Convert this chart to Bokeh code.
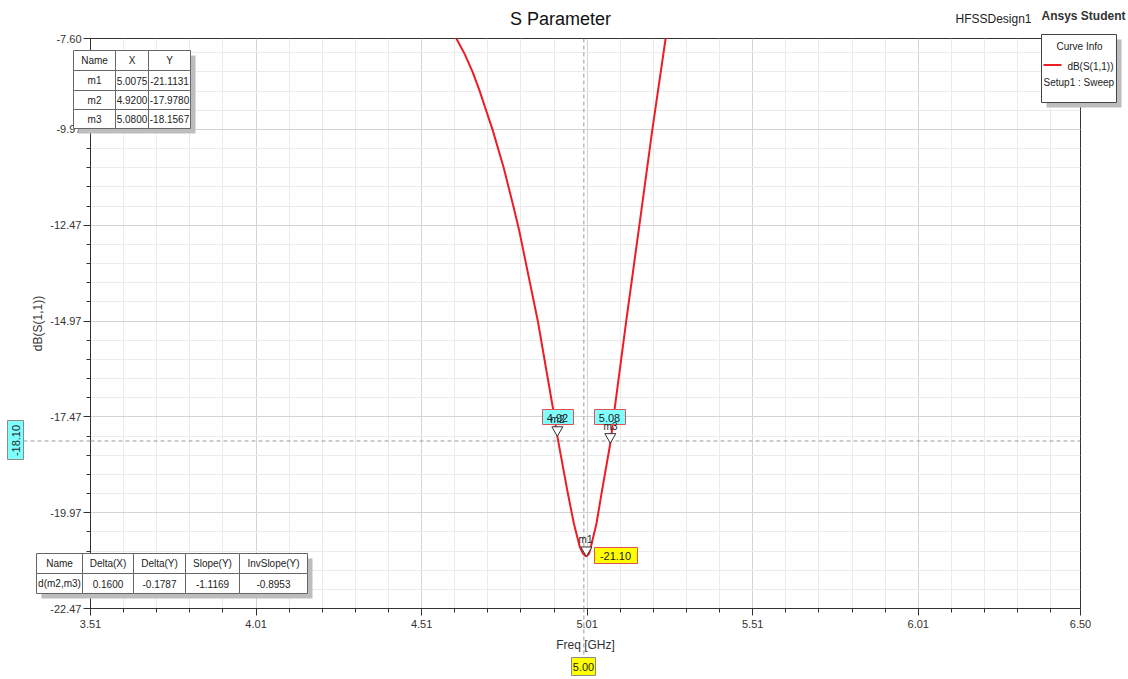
import math
from bokeh.plotting import figure
from bokeh.models import Range1d, FixedTicker, Label, PrintfTickFormatter
from bokeh.embed import file_html
from bokeh.resources import INLINE

# ---------------- data ----------------
freq_ghz = [4.580, 4.615, 4.641, 4.664, 4.685, 4.7045, 4.724, 4.758, 4.787,
            4.804, 4.861, 4.907, 4.920, 4.950, 4.970, 4.988, 4.9975, 5.0075,
            5.0156, 5.021, 5.038, 5.055, 5.080, 5.093, 5.128, 5.166, 5.207,
            5.247, 5.260]
s11_db = [-6.90, -7.60, -8.02, -8.47, -8.96, -9.47, -9.97, -10.97, -11.97,
          -12.58, -14.97, -17.26, -17.98, -19.39, -20.26, -20.87, -21.04, -21.11,
          -21.04, -20.87, -20.26, -19.39, -18.16, -17.26, -14.97, -12.58, -9.97,
          -7.60, -6.90]

marker_names = ["m1", "m2", "m3"]
marker_x = [5.0075, 4.9200, 5.0800]
marker_y = [-21.1131, -17.9780, -18.1567]
marker_x_text = ["5.0075", "4.9200", "5.0800"]
marker_y_text = ["-21.1131", "-17.9780", "-18.1567"]

delta_headers = ["Name", "Delta(X)", "Delta(Y)", "Slope(Y)", "InvSlope(Y)"]
delta_values = ["d(m2,m3)", "0.1600", "-0.1787", "-1.1169", "-0.8953"]

x_major_ticks = [3.51, 4.01, 4.51, 5.01, 5.51, 6.01, 6.50]
x_tick_labels = ["3.51", "4.01", "4.51", "5.01", "5.51", "6.01", "6.50"]
y_major_ticks = [-22.47, -19.97, -17.47, -14.97, -12.47, -9.97, -7.60]
y_tick_labels = ["-22.47", "-19.97", "-17.47", "-14.97", "-12.47", "-9.97", "-7.60"]

cursor_x = 5.00
cursor_x_text = "5.00"
cursor_y = -18.10
cursor_y_text = "-18.10"
m1_value_text = "-21.10"
m2_value_text = "4.92"
m3_value_text = "5.08"

X_LO, X_HI = x_major_ticks[0], x_major_ticks[-1]
Y_LO, Y_HI = y_major_ticks[0], y_major_ticks[-1]

# minor ticks (0.1 GHz and 0.5 dB subdivisions)
x_minor = []
for a, b in zip(x_major_ticks[:-1], x_major_ticks[1:]):
    k = 1
    while a + 0.1 * k < b - 0.05:
        x_minor.append(round(a + 0.1 * k, 3))
        k += 1
y_minor = []
k = 1
while Y_LO + 0.5 * k < Y_HI - 0.05:
    y_minor.append(round(Y_LO + 0.5 * k, 3))
    k += 1

# ---------------- layout helpers ----------------
W, H = 1128, 679
FL, FR, FT, FB = 90, 1080, 38, 608  # frame edges in px
FONT = "Liberation Sans"


def px2x(px):
    return X_LO + (px - FL) * (X_HI - X_LO) / (FR - FL)


def py2y(py):
    return Y_HI - (py - FT) * (Y_HI - Y_LO) / (FB - FT)


# ================= main chart (frame + axes + curve) =================
pm = figure(width=W, height=H, title=None,
            x_range=Range1d(X_LO, X_HI), y_range=Range1d(Y_LO, Y_HI),
            output_backend="svg", toolbar_location=None,
            min_border_left=FL, min_border_right=W - FR,
            min_border_top=FT, min_border_bottom=H - FB)
pm.background_fill_color = "white"
pm.border_fill_color = "white"
pm.outline_line_color = "#333333"
pm.outline_line_width = 1

pm.xaxis.ticker = FixedTicker(ticks=x_major_ticks, minor_ticks=x_minor)
pm.yaxis.ticker = FixedTicker(ticks=y_major_ticks, minor_ticks=y_minor)
pm.xaxis.formatter = PrintfTickFormatter(format="%.2f")
pm.yaxis.formatter = PrintfTickFormatter(format="%.2f")
pm.xaxis.major_label_overrides = {t: s for t, s in zip(x_major_ticks, x_tick_labels)}
pm.yaxis.major_label_overrides = {t: s for t, s in zip(y_major_ticks, y_tick_labels)}

for ax in (pm.xaxis, pm.yaxis):
    ax.axis_line_color = "#333333"
    ax.major_tick_line_color = "#333333"
    ax.minor_tick_line_color = "#333333"
    ax.major_tick_in = 0
    ax.minor_tick_in = 0
    ax.major_tick_out = 7
    ax.minor_tick_out = 4
    ax.major_label_text_font = FONT
    ax.major_label_text_font_size = "11px"
    ax.major_label_text_color = "#333333"
    ax.axis_label_text_font = FONT
    ax.axis_label_text_font_size = "12px"
    ax.axis_label_text_font_style = "normal"
    ax.axis_label_text_color = "#333333"

pm.xaxis.axis_label = "Freq [GHz]"
pm.yaxis.axis_label = "dB(S(1,1))"
pm.xaxis.major_label_standoff = 4
pm.xaxis.axis_label_standoff = 7
pm.yaxis.major_label_standoff = 2
pm.yaxis.axis_label_standoff = 2

pm.xgrid.grid_line_color = "#d4d4d4"
pm.ygrid.grid_line_color = "#d4d4d4"
pm.xgrid.minor_grid_line_color = "#ebebeb"
pm.ygrid.minor_grid_line_color = "#ebebeb"

# cursors (inside the frame)
pm.segment(x0=[cursor_x], y0=[Y_HI], x1=[cursor_x], y1=[Y_LO],
           line_color="#9a9a9a", line_width=1, line_dash="4 3")
pm.segment(x0=[X_LO], y0=[cursor_y], x1=[X_HI], y1=[cursor_y],
           line_color="#9a9a9a", line_width=1, line_dash="4 3")

pm.line(freq_ghz, s11_db, line_color="#ee1c25", line_width=2)

# ================= overlay covering the whole canvas =================
po = figure(width=W, height=H, title=None,
            x_range=Range1d(px2x(0), px2x(W)), y_range=Range1d(py2y(H), py2y(0)),
            output_backend="svg", toolbar_location=None,
            x_axis_location=None, y_axis_location=None,
            min_border=0, min_border_left=0, min_border_right=0,
            min_border_top=0, min_border_bottom=0)
po.background_fill_color = None
po.border_fill_color = None
po.outline_line_color = None
po.grid.visible = False
po.margin = (-H, 0, 0, 0)


def box(l, t, r, b, fill="white", line="#555555", lw=1):
    po.quad(left=[px2x(l)], right=[px2x(r)], top=[py2y(t)], bottom=[py2y(b)],
            fill_color=fill, line_color=line, line_width=lw)


def text(cx, cy, s, size="10px", align="center", color="#222222", style="normal",
         angle=0.0):
    po.add_layout(Label(x=px2x(cx), y=py2y(cy), text=s, text_align=align,
                        text_baseline="middle", text_font=FONT, text_font_size=size,
                        text_color=color, text_font_style=style, angle=angle))


# cursor extensions outside the frame
po.segment(x0=[cursor_x], y0=[Y_LO], x1=[cursor_x], y1=[py2y(657)],
           line_color="#9a9a9a", line_width=1, line_dash="4 3")
po.segment(x0=[px2x(23)], y0=[cursor_y], x1=[X_LO], y1=[cursor_y],
           line_color="#9a9a9a", line_width=1, line_dash="4 3")

# marker triangles (tip at the marker point)
tri_size = 11
tip_px = tri_size / 2 * math.sqrt(3) * 2 / 3
dy_per_px = (Y_HI - Y_LO) / (FB - FT)
po.scatter(marker_x, [v + tip_px * dy_per_px for v in marker_y],
           marker="inverted_triangle", size=tri_size,
           fill_color="white", line_color="#333333", line_width=1)

# cursor value boxes
box(571, 657, 595, 675, fill="#ffff00", line="#8a8a8a")
text(583, 666, cursor_x_text, size="11px")
box(7, 420, 23, 459, fill="#80ffff", line="#8a8a8a")
text(15, 440, cursor_y_text, size="11px", angle=math.pi / 2)

# marker callouts
box(542, 409, 573, 424, fill="#80ffff", line="#e05050")
text(557, 417, m2_value_text, size="11px")
box(594, 409, 625, 424, fill="#80ffff", line="#e05050")
text(609, 417, m3_value_text, size="11px")
box(594, 547, 637, 563, fill="#ffff00", line="#e05050")
text(615, 555, m1_value_text, size="11px")
marker_label_pos = [(585, 539), (557, 419), (610, 426)]
for name, (lx, ly) in zip(marker_names, marker_label_pos):
    text(lx, ly, name, size="10px")

# marker table (top-left)
col_x = [73, 115, 148, 190]
row_y = [50, 70, 90, 109, 128]
box(col_x[0] + 5, row_y[0] + 5, col_x[-1] + 5, row_y[-1] + 5, fill="#bdbdbd", line=None)
rows = [["Name", "X", "Y"]] + [[n, xs, ys] for n, xs, ys in
                               zip(marker_names, marker_x_text, marker_y_text)]
for r, row in enumerate(rows):
    for c, s in enumerate(row):
        box(col_x[c], row_y[r], col_x[c + 1], row_y[r + 1], line="#666666")
        text((col_x[c] + col_x[c + 1]) / 2, (row_y[r] + row_y[r + 1]) / 2, s)

# delta table (bottom-left)
dcol_x = [36, 82, 133, 185, 239, 307]
drow_y = [553, 573, 593]
box(dcol_x[0] + 5, drow_y[0] + 5, dcol_x[-1] + 5, drow_y[-1] + 5, fill="#bdbdbd", line=None)
for r, row in enumerate([delta_headers, delta_values]):
    for c, s in enumerate(row):
        box(dcol_x[c], drow_y[r], dcol_x[c + 1], drow_y[r + 1], line="#666666")
        text((dcol_x[c] + dcol_x[c + 1]) / 2, (drow_y[r] + drow_y[r + 1]) / 2, s)

# curve info box
box(1046, 39, 1121, 107, fill="#bdbdbd", line=None)
box(1041, 34, 1116, 102, line="#444444")
text(1079, 46, "Curve Info")
po.segment(x0=[px2x(1043)], y0=[py2y(64.5)], x1=[px2x(1061)], y1=[py2y(64.5)],
           line_color="#ee1c25", line_width=2)
text(1113, 66, "dB(S(1,1))", align="right")
text(1043, 82, "Setup1 : Sweep", align="left")

# titles
text(560, 18, "S Parameter", size="18px", color="#111111")
text(993, 18, "HFSSDesign1", size="12px", color="#222222")
text(1083, 15, "Ansys Student", size="12px", color="#333333", style="bold")

p = [pm, po]
open("out.html", "w").write(file_html(p, INLINE))
